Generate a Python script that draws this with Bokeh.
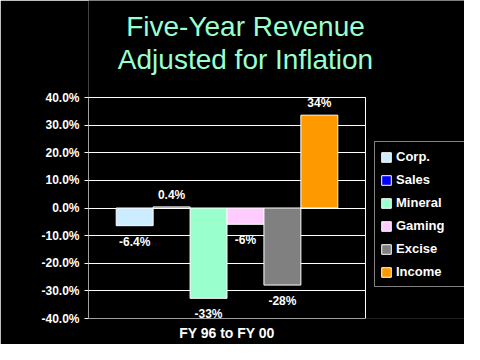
from bokeh.plotting import figure
from bokeh.models import (ColumnDataSource, Range1d, FixedTicker, BoxAnnotation,
                          PrintfTickFormatter, Legend, LegendItem, Label)
from bokeh.core.properties import value
from bokeh.embed import file_html
from bokeh.resources import INLINE

category = "FY 96 to FY 00"
series = ["Corp.", "Sales", "Mineral", "Gaming", "Excise", "Income"]
values = [-6.4, 0.4, -32.7, -5.9, -27.9, 33.6]
value_labels = ["-6.4%", "0.4%", "-33%", "-6%", "-28%", "34%"]
colors = ["#CCECFF", "#0000FF", "#99FFCC", "#FFCCFF", "#808080", "#FF9900"]
y_ticks = [-40, -30, -20, -10, 0, 10, 20, 30, 40]
title_lines = ["Five-Year Revenue", "Adjusted for Inflation"]

FONT = "Liberation Sans"

# layout (pixels)
W, H = 464, 344
LEFT, BOTTOM = 88, 26
PLOT_W, PLOT_H = 277, 221          # width/height of the data area
FRAME_W, FRAME_H = W - LEFT, H - BOTTOM
ymin, ymax = -40, 40
y_top = ymin + (ymax - ymin) * FRAME_H / PLOT_H
x_right = FRAME_W / PLOT_W

p = figure(width=W, height=H, x_range=Range1d(0, x_right),
           y_range=Range1d(ymin, y_top), output_backend="svg",
           toolbar_location=None, min_border_left=LEFT, min_border_right=0,
           min_border_top=0, min_border_bottom=BOTTOM,
           background_fill_color="black", border_fill_color="black",
           outline_line_color=None)

n = len(series)
group_width = 0.8
bw = group_width / n
items = []
for i, (name, val, lab, col) in enumerate(zip(series, values, value_labels, colors)):
    xc = 0.5 - group_width / 2 + bw / 2 + i * bw
    src = ColumnDataSource(dict(x=[xc], val=[val], lab=[lab]))
    r = p.vbar(x="x", top="val", bottom=0, width=bw, source=src,
               fill_color=col, line_color="white", line_width=1)
    items.append(LegendItem(label=name, renderers=[r]))
    if val >= 0:
        p.text(x="x", y="val", text="lab", source=src, text_align="center",
               text_baseline="bottom", y_offset=-5, text_color="white",
               text_font=value(FONT), text_font_style="bold",
               text_font_size="12px")
    else:
        p.text(x="x", y="val", text="lab", source=src, text_align="center",
               text_baseline="top", y_offset=9, text_color="white",
               text_font=value(FONT), text_font_style="bold",
               text_font_size="12px")

# hide grid lines to the right of the data area, then draw the area border
p.add_layout(BoxAnnotation(left=1, bottom=ymin - 1, top=ymax + 1,
                           fill_color="black", fill_alpha=1, line_alpha=0))
p.add_layout(BoxAnnotation(left=0, right=1, bottom=ymin, top=ymax,
                           fill_alpha=0, line_color="white", line_width=1,
                           line_alpha=1))

legend = Legend(items=items, location=(286, 31), margin=0, padding=5,
                spacing=4, label_height=19, glyph_height=12, glyph_width=12,
                label_width=63, label_standoff=4,
                background_fill_color="black", background_fill_alpha=1,
                border_line_color="white", border_line_width=1,
                label_text_color="white", label_text_font=FONT,
                label_text_font_style="bold", label_text_font_size="13px")
p.add_layout(legend)

# axes
p.yaxis.ticker = FixedTicker(ticks=y_ticks)
p.yaxis.bounds = (ymin, ymax)
p.yaxis.formatter = PrintfTickFormatter(format="%.1f%%")
p.yaxis.axis_line_color = None
p.yaxis.major_tick_line_color = "white"
p.yaxis.major_tick_out = 4
p.yaxis.major_tick_in = 0
p.yaxis.minor_tick_line_color = None
p.yaxis.minor_tick_out = 0
p.yaxis.major_label_standoff = 5
p.yaxis.major_label_text_color = "white"
p.yaxis.major_label_text_font = FONT
p.yaxis.major_label_text_font_style = "bold"
p.yaxis.major_label_text_font_size = "12px"

p.xaxis.ticker = FixedTicker(ticks=[0.5])
p.xaxis.major_label_overrides = {0.5: category}
p.xaxis.axis_line_color = None
p.xaxis.major_tick_line_color = None
p.xaxis.minor_tick_line_color = None
p.xaxis.major_tick_out = 0
p.xaxis.major_tick_in = 0
p.xaxis.minor_tick_out = 0
p.xaxis.minor_tick_in = 0
p.xaxis.major_label_standoff = 6
p.xaxis.major_label_text_color = "white"
p.xaxis.major_label_text_font = FONT
p.xaxis.major_label_text_font_style = "bold"
p.xaxis.major_label_text_font_size = "14px"

p.xgrid.grid_line_color = None
p.ygrid.grid_line_color = "white"
p.ygrid.grid_line_width = 1

# title lines (screen units relative to the frame's bottom-left corner)
for txt, yy in zip(title_lines, [292, 259]):
    p.add_layout(Label(x=157, y=yy, x_units="screen", y_units="screen",
                       text=txt, text_align="center",
                       text_baseline="alphabetic", text_color="#99FFCC",
                       text_font=FONT, text_font_size="28px"))

open("out.html", "w").write(file_html(p, INLINE))
